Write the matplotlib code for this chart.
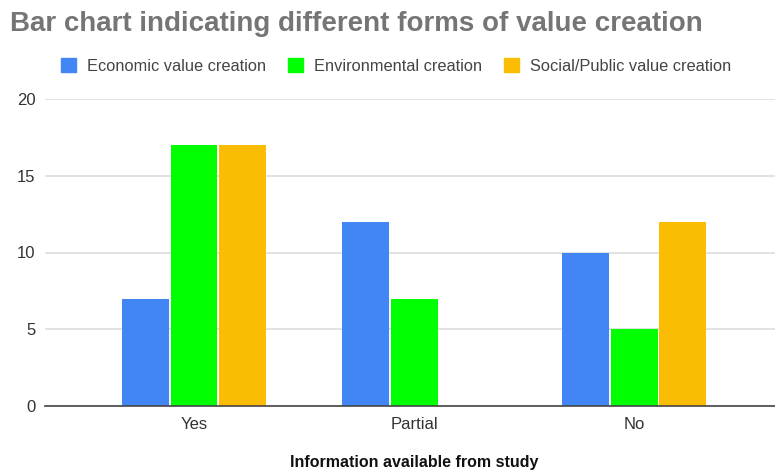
import matplotlib
matplotlib.use("Agg")
import matplotlib.pyplot as plt
import numpy as np
from matplotlib.patches import Patch

plt.rcParams['font.family'] = ['Liberation Sans', 'DejaVu Sans']

categories = ["Yes", "Partial", "No"]
series_names = ["Economic value creation", "Environmental creation", "Social/Public value creation"]
economic = [7, 12, 10]
environmental = [17, 7, 5]
social = [17, 0, 12]
colors = ["#4285f4", "#00ff00", "#fbbc04"]

fig = plt.figure(figsize=(7.75, 4.70), dpi=100)
ax = fig.add_axes([45/775, 1 - 406/470, 730/775, (406 - 99)/470])

x = np.arange(len(categories))
width = 0.213
step = 0.22
for i, (vals, col) in enumerate(zip([economic, environmental, social], colors)):
    ax.bar(x + (i - 1) * step, vals, width=width, color=col, zorder=3)

ax.set_ylim(0, 20)
ax.set_xlim(-0.677, 2.64)
ax.set_yticks([0, 5, 10, 15, 20])
ax.yaxis.grid(True, color="#dddddd", linewidth=1.2, zorder=0)
ax.set_xticks(x)
ax.set_xticklabels(categories)
for s in ["top", "right", "left"]:
    ax.spines[s].set_visible(False)
ax.spines["bottom"].set_color("#444444")
ax.spines["bottom"].set_linewidth(1.2)
ax.spines["bottom"].set_zorder(4)
ax.tick_params(axis="both", length=0, labelsize=12, colors="#333333", pad=8)
ax.tick_params(axis="y", pad=7)

fig.text(414/775, 1 - 462/470, "Information available from study", fontsize=11.5,
         fontweight="bold", color="#111111", ha="center", va="center")

fig.text(10/775, 1 - 24/470, "Bar chart indicating different forms of value creation",
         fontsize=20, fontweight="bold", color="#757575", va="center", ha="left")

handles = [Patch(facecolor=c, edgecolor=c) for c in colors]
fig.legend(handles, series_names, loc="center", bbox_to_anchor=(396/775, 1 - 66/470),
           ncol=3, frameon=False, fontsize=11.8, handlelength=0.96, handleheight=0.96,
           handletextpad=0.66, columnspacing=1.3, labelcolor="#444444")

fig.savefig("out.png", dpi=100)
